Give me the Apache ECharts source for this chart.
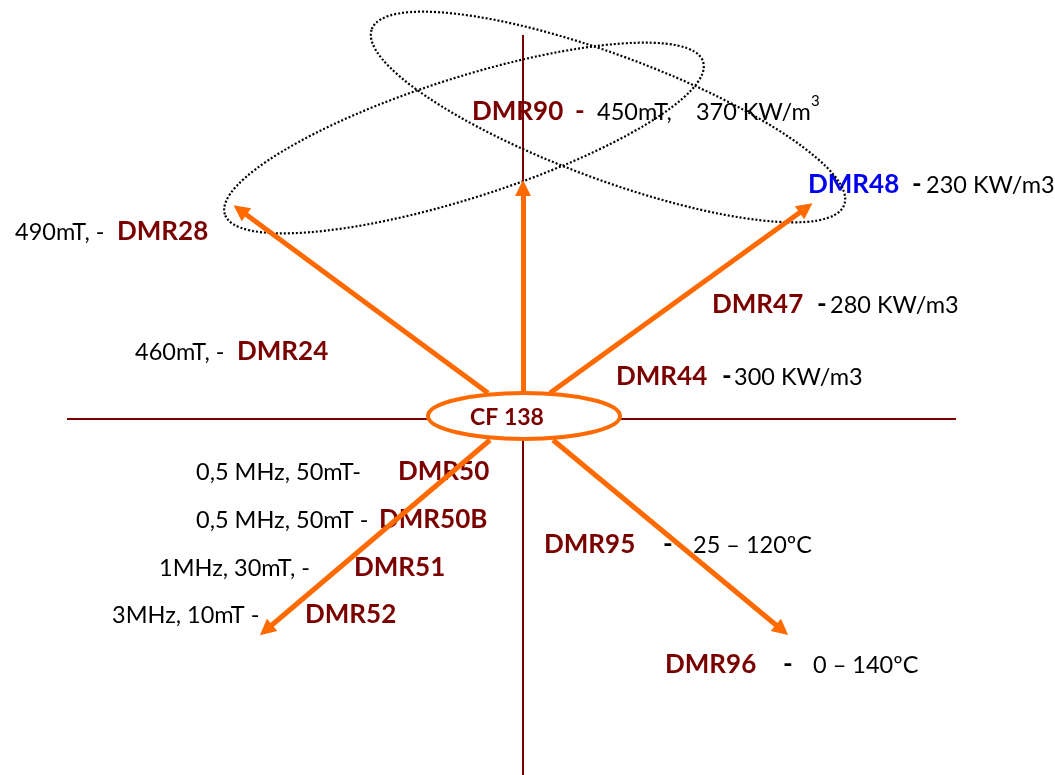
<!DOCTYPE html>
<html><head><meta charset="utf-8">
<script src="https://cdn.jsdelivr.net/npm/echarts@6.0.0/dist/echarts.min.js"></script>
<style>html,body{margin:0;padding:0;background:#fff}#c{width:1055px;height:775px}</style>
</head><body><div id="c"></div>
<script>
// Diagram space: origin at the CF 138 hub, y grows upwards
const hubLabel = 'CF 138';
const hubCenter = [1, 3];
const hubRadii = [96, 23];
const hubLabelAt = [-16, 1];

const guideLines = [[[-456, 0], [433, 0]], [[0, 384], [0, -356]]];

const arrowFrom = [[-35, 26], [0, 27], [27, 26], [-33, -21], [30, -21]];
const arrowTo = [[-283, 209], [0, 231], [283, 211], [-257, -211], [259, -211]];

const fieldCenters = [[85, 302], [-59, 281]];
const fieldRadii = [[252, 62], [251, 60]];
const fieldTilt = [-20.4, 17.7];

const codes = ['DMR90', 'DMR48', 'DMR28', 'DMR24', 'DMR47', 'DMR44', 'DMR50', 'DMR50B', 'DMR51', 'DMR52', 'DMR95', 'DMR96'];
const codeX = [-51, 285, -406, -286, 189, 93, -125, -144, -169, -218, 21, 142];
const codeY = [307, 234, 187, 67, 114, 42, -53, -101, -149, -196, -126, -246];
const highlighted = ['DMR48'];

const dashX = [52, 389, 294, 199, 140, 260];
const dashY = [307, 234, 114, 42, -126, -246];
const dashOf = ['DMR90', 'DMR48', 'DMR47', 'DMR44', 'DMR95', 'DMR96'];

const specs = ['450mT,    370 KW/m{sup|3}', '230 KW/m3', '490mT, - ', '460mT, - ', '280 KW/m3', '300 KW/m3',
  '0,5 MHz, 50mT-', '0,5 MHz, 50mT - ', '1MHz, 30mT, - ', '3MHz, 10mT - ', '25 – 120ºC', '0 – 140ºC'];
const specX = [74, 403, -508, -388, 307, 211, -327, -327, -364, -411, 170, 290];
const specY = [307, 234, 187, 67, 114, 42, -53, -101, -149, -196, -126, -246];

const DARK_RED = '#7a0000';
const ORANGE = '#ff6a00';
const FONT = 'Lato';

const chart = echarts.init(document.getElementById('c'), null, {renderer: 'canvas'});

function textSeries(name, data, label, z) {
  return {
    type: 'scatter', name, z, symbolSize: 0, silent: true,
    itemStyle: {opacity: 1},
    data,
    label: Object.assign({show: true, position: 'right', distance: 0, formatter: '{b}', fontFamily: FONT, fontSize: 23.5, opacity: 1}, label)
  };
}

function ellipseSeries(name, data, style, z) {
  return {
    type: 'custom', name, z, silent: true,
    data,
    renderItem(params, api) {
      const c = api.coord([api.value(0), api.value(1)]);
      const s = api.size([api.value(2), api.value(3)]);
      return {
        type: 'ellipse', x: c[0], y: c[1], rotation: api.value(4) * Math.PI / 180,
        shape: {cx: 0, cy: 0, rx: s[0], ry: s[1]},
        style
      };
    }
  };
}

const option = {
  animation: false,
  backgroundColor: '#fff',
  grid: {left: 0, right: 0, top: 0, bottom: 0},
  xAxis: {type: 'value', min: -523, max: 532, show: false},
  yAxis: {type: 'value', min: -356, max: 419, show: false},
  series: [
    textSeries('codes', codes.map((c, i) => ({name: c, value: [codeX[i], codeY[i]],
      label: {color: highlighted.includes(c) ? '#0000f0' : DARK_RED}})), {fontWeight: 'bold', fontSize: 26}, 1),
    textSeries('dashes', dashOf.map((c, i) => ({name: '-', value: [dashX[i], dashY[i]],
      label: {color: c === 'DMR90' ? DARK_RED : '#000'}})), {fontWeight: 'bold', fontSize: 26}, 1),
    textSeries('specs', specs.map((t, i) => ({name: t, value: [specX[i], specY[i]]})),
      {color: '#000', formatter: p => p.name, rich: {sup: {fontSize: 15, fontFamily: FONT, color: '#000', verticalAlign: 'top'}}, lineHeight: 36}, 1),
    {
      type: 'lines', name: 'guides', coordinateSystem: 'cartesian2d', z: 2, silent: true,
      symbol: 'none',
      lineStyle: {color: DARK_RED, width: 2, opacity: 1},
      data: guideLines.map(c => ({coords: c}))
    },
    ellipseSeries('fields', fieldCenters.map((c, i) => [c[0], c[1], fieldRadii[i][0], fieldRadii[i][1], fieldTilt[i]]),
      {fill: 'none', stroke: '#000', lineWidth: 2.2, lineDash: [2, 2]}, 3),
    {
      type: 'lines', name: 'arrows', coordinateSystem: 'cartesian2d', z: 4, silent: true,
      symbol: ['none', 'triangle'], symbolSize: 16,
      lineStyle: {color: ORANGE, width: 5, opacity: 1},
      data: arrowFrom.map((f, i) => ({coords: [f, arrowTo[i]]}))
    },
    ellipseSeries('hub', [[hubCenter[0], hubCenter[1], hubRadii[0], hubRadii[1], 0]],
      {fill: '#fff', stroke: ORANGE, lineWidth: 4}, 5),
    {
      type: 'scatter', name: 'hubLabel', z: 6, symbolSize: 0, silent: true,
      itemStyle: {opacity: 1},
      data: [{name: hubLabel, value: hubLabelAt}],
      label: {show: true, position: 'inside', formatter: '{b}', fontFamily: FONT, fontSize: 23, fontWeight: 'bold', color: DARK_RED, opacity: 1}
    }
  ]
};
chart.setOption(option);
</script>
</body></html>
